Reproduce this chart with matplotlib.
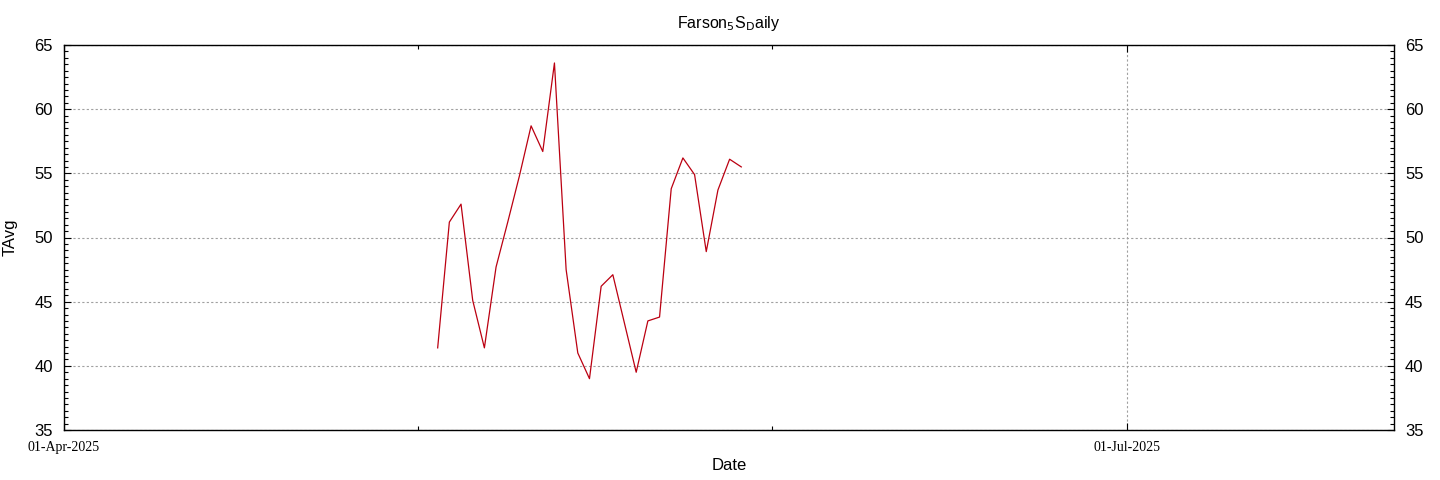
import numpy as np
import pandas as pd
import matplotlib
matplotlib.use('Agg')
import matplotlib.pyplot as plt
import matplotlib.dates as mdates
from matplotlib.ticker import MultipleLocator, FixedLocator

# daily average temperature, Farson 5S, 03-May-2025 .. 29-May-2025
dates = pd.date_range('2025-05-03', '2025-05-29', freq='D')
tavg = [41.4, 51.2, 52.6, 45.1, 41.4, 47.7, 51.2, 54.8, 58.7, 56.7,
        63.6, 47.5, 41.0, 39.0, 46.2, 47.1, 43.3, 39.5, 43.5, 43.8,
        53.8, 56.2, 54.9, 48.9, 53.7, 56.1, 55.5]

x_start = pd.Timestamp('2025-04-01')
x_end = pd.Timestamp('2025-07-23 21:30')
major_dates = [pd.Timestamp('2025-04-01'), pd.Timestamp('2025-07-01')]
# gnuplot style minor tics: major interval split in 3
step = (major_dates[1] - major_dates[0]) / 3
minor_dates = [major_dates[0] + step, major_dates[0] + 2 * step]

fig = plt.figure(figsize=(14.4, 4.8), dpi=100)
ax = fig.add_axes([64 / 1440, 1 - 430 / 480, 1330 / 1440, 385 / 480])

ax.plot(dates, tavg, color='#bb0011', linewidth=0.9)

ax.set_xlim(x_start, x_end)
ax.set_ylim(35, 65)

ax.xaxis.set_major_locator(FixedLocator(mdates.date2num(major_dates)))
ax.xaxis.set_minor_locator(FixedLocator(mdates.date2num(minor_dates)))
ax.xaxis.set_major_formatter(mdates.DateFormatter('%d-%b-%Y'))
ax.yaxis.set_major_locator(MultipleLocator(5))
ax.yaxis.set_minor_locator(MultipleLocator(0.5))

ax.tick_params(which='both', direction='in', top=True, right=True,
               labelright=True, width=0.8)
ax.tick_params(which='major', length=5)
ax.tick_params(which='minor', length=3)
ax.tick_params(axis='y', which='major', labelsize=12, pad=8)
ax.tick_params(axis='x', which='major', pad=8)
for lab in ax.get_xticklabels():
    lab.set_fontfamily('Liberation Serif')
    lab.set_fontsize(10)
for lab in ax.get_yticklabels():
    lab.set_fontfamily('Liberation Sans')

ax.grid(which='major', color='#a0a0a0', linestyle=(0, (2, 2)), linewidth=0.8)
for s in ax.spines.values():
    s.set_linewidth(1.0)

ax.set_title(r'Farson$_\mathrm{5}$S$_\mathrm{D}$aily', fontsize=11.5,
             family='Liberation Sans', pad=12)
ax.set_xlabel('Date', fontsize=12, family='Liberation Sans', labelpad=3)
ax.set_ylabel('TAvg', fontsize=12, family='Liberation Sans', labelpad=12)

fig.savefig('out.png', dpi=100)
